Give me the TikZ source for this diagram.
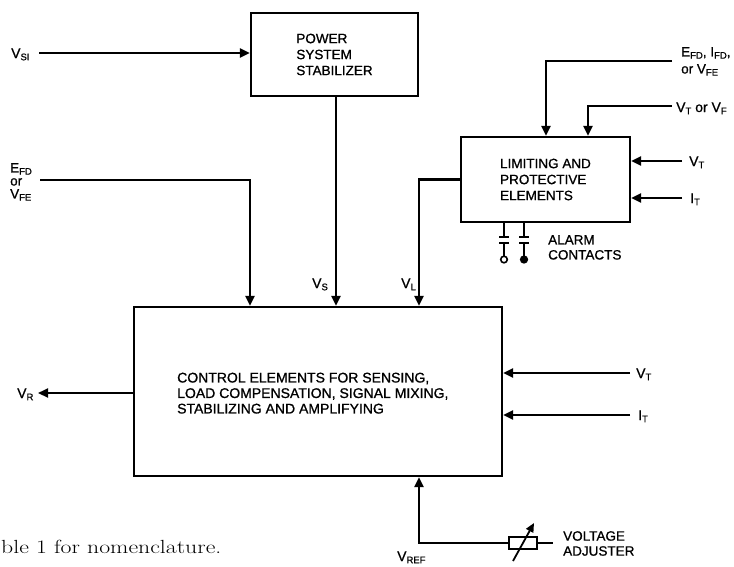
\documentclass[tikz,border=0pt]{standalone}
\usepackage{fontspec}
\usetikzlibrary{arrows.meta}
\newfontfamily\hv[FakeBold=0.9]{Liberation Sans}
\newcommand\lsub[1]{\raisebox{-0.3ex}{\fontsize{9.5}{10}\selectfont #1}}
\tikzset{
  ln/.style={line width=2.1pt},
  arr/.style={ln,-{Triangle[length=10pt,width=9pt]}},
  blk/.style={draw,line width=2.2pt,inner sep=0pt,rectangle,align=left,
              font=\hv\fontsize{13.5}{16}\selectfont},
  lbl/.style={inner sep=0pt,anchor=base west,font=\hv\fontsize{14}{14}\selectfont},
  mlbl/.style={inner sep=0pt,anchor=north west,align=left,font=\hv\fontsize{13.5}{16}\selectfont},
}
\begin{document}
\begin{tikzpicture}[x=1pt,y=-1pt]
\useasboundingbox (0,0) rectangle (734,566);
% blocks
\node[blk,minimum width=167pt,minimum height=83pt] (pss) at (334.5,54.5)
  {POWER\\SYSTEM\\STABILIZER};
\node[blk,minimum width=169pt,minimum height=85pt] (lim) at (545.5,179.5)
  {LIMITING AND\\PROTECTIVE\\ELEMENTS};
\node[blk,minimum width=368pt,minimum height=169pt] (main) at (318,391.5) {};
\node[mlbl,font=\hv\fontsize{14}{15.5}\selectfont] (maintxt) at (177,372.5)
  {CONTROL ELEMENTS FOR SENSING,\\LOAD COMPENSATION, SIGNAL MIXING,\\STABILIZING AND AMPLIFYING};
\node[draw,line width=1.8pt,minimum width=28pt,minimum height=12pt,inner sep=0pt] (res) at (523,543) {};
% free ends
\coordinate (vsi) at (39,53);
\coordinate (efd) at (40,180);
\coordinate (efdl) at (672,61);
\coordinate (vtvf) at (672,106);
\coordinate (vtl) at (682,161);
\coordinate (itl) at (682,198);
\coordinate (vtm) at (630,373);
\coordinate (itm) at (630,415);
\coordinate (vr) at (38,393);
\coordinate (resr) at (553,543);
% connectors
\draw[arr] (vsi) -- (vsi -| pss.west);
\draw[arr] (336,0 |- pss.south) -- (336,0 |- main.north);
\draw[arr] (efd) -| (250,0 |- main.north);
\draw[arr] (lim.west) -| (419,0 |- main.north);
\draw[arr] (efdl) -| (546,0 |- lim.north);
\draw[arr] (vtvf) -| (588,0 |- lim.north);
\draw[arr] (vtl) -- (vtl -| lim.east);
\draw[arr] (itl) -- (itl -| lim.east);
\draw[arr] (vtm) -- (vtm -| main.east);
\draw[arr] (itm) -- (itm -| main.east);
\draw[arr] (vr -| main.west) -- (vr);
\draw[arr] (res.west) -| (419,0 |- main.south);
\draw[ln] (res.east) -- (resr);
\draw[line width=1.8pt,-{Triangle[length=9pt,width=8pt]}] (513,561) -- (534,523);
% alarm contacts
\foreach \x/\f in {504/white,524/black}{
  \draw[ln] (\x,0 |- lim.south) -- (\x,237);
  \draw[ln] (\x-5,237) -- (\x+5,237);
  \draw[ln] (\x-5,243) -- (\x+5,243);
  \draw[ln] (\x,243) -- (\x,256);
  \draw[line width=1.6pt,fill=\f] (\x,259.5) circle (3.3pt);
}
% labels
\node[lbl] (lvsi) at (11,58) {V\lsub{SI}};
\node[mlbl] (lefd) at (10,163) {E\lsub{FD}\\[-3pt]or\\[-3pt]V\lsub{FE}};
\node[lbl] (lvs) at (312,288) {V\lsub{S}};
\node[lbl] (lvl) at (401,288) {V\lsub{L}};
\node[lbl] (lvr) at (17,398) {V\lsub{R}};
\node[lbl] (lvtm) at (636,378) {V\lsub{T}};
\node[lbl] (litm) at (638,420) {I\lsub{T}};
\node[lbl] (lvtl) at (689,166) {V\lsub{T}};
\node[lbl] (litl) at (690,203) {I\lsub{T}};
\node[lbl] (lvtvf) at (676,112) {V\lsub{T} or V\lsub{F}};
\node[mlbl] (lefdl) at (681,47) {E\lsub{FD}, I\lsub{FD},\\[1pt]or V\lsub{FE}};
\node[mlbl] (lalarm) at (548,235) {ALARM\\[-1pt]CONTACTS};
\node[lbl] (lvref) at (397,561) {V\lsub{REF}};
\node[mlbl] (lvadj) at (563,531) {VOLTAGE\\[-1pt]ADJUSTER};
\node[inner sep=0pt,anchor=base west,font=\fontsize{19}{20}\selectfont] (cap) at (1,553)
  {\scalebox{1.25}[1]{ble 1 for nomenclature.}};
\end{tikzpicture}
\end{document}
